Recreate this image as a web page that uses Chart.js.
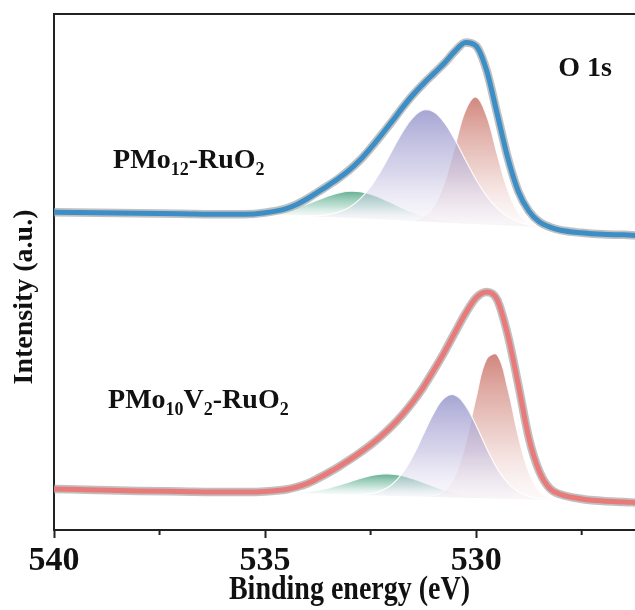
<!DOCTYPE html>
<html>
<head>
<meta charset="utf-8">
<script src="https://cdn.jsdelivr.net/npm/chart.js@4.4.1/dist/chart.umd.min.js"></script>
<style>
html, body { margin: 0; padding: 0; overflow: hidden; background: #fff; }
#wrap { position: relative; width: 650px; height: 610px; }
</style>
</head>
<body>
<div id="wrap"><canvas id="xpsChart"></canvas></div>
<script>
// binding energy grid (eV), shared by every series
const energy = [540, 539, 538, 537, 536, 535.5, 535, 534.5, 534.25, 534,
    533.75, 533.5, 533.25, 533, 532.75, 532.5, 532.25, 532, 531.75, 531.5,
    531.25, 531, 530.75, 530.5, 530.25, 530, 529.75, 529.5, 529.25, 529,
    528.75, 528.5, 528.25, 528, 527.5, 527, 526.5, 526, 525.5, 525];

// PMo12-RuO2 (upper spectrum, offset)
const topEnvelope = [61.6, 61.5, 61.4, 61.3, 61.2, 61.2, 61.5, 62.3, 63.1, 64.2,
    65.5, 66.8, 68.2, 69.8, 71.7, 74.0, 76.5, 79.1, 81.8, 84.3,
    86.5, 88.5, 90.5, 92.8, 94.5, 93.8, 89.0, 80.6, 72.1, 65.6,
    61.8, 59.7, 58.7, 58.1, 57.6, 57.3, 57.2, 57.0, 57.0, 56.8];
const topBackground = [61.43, 61.38, 61.32, 61.24, 61.16, 61.10, 61.05, 60.95, 60.85, 60.79,
    60.72, 60.64, 60.56, 60.47, 60.39, 60.29, 60.19, 60.10, 60.00, 59.90,
    59.81, 59.71, 59.61, 59.52, 59.42, 59.32, 59.22, 59.13, 59.03, 58.91,
    58.80, 58.68, 58.43, 58.0, 57.6, 57.2, 57.0, 56.85, 56.8, 56.6];
const topGreen = [61.43, 61.38, 61.32, 61.24, 61.17, 61.17, 61.37, 61.96, 62.46, 63.17,
    63.96, 64.73, 65.35, 65.65, 65.57, 65.10, 64.32, 63.38, 62.41, 61.54,
    60.85, 60.31, 59.94, 59.68, 59.50, 59.35, 59.23, 59.14, 59.03, 58.91,
    58.80, 58.68, 58.43, 58.0, 57.6, 57.2, 57.0, 56.85, 56.8, 56.6];
const topPurple = [61.43, 61.38, 61.32, 61.24, 61.16, 61.10, 61.05, 60.96, 60.87, 60.87,
    60.93, 61.13, 61.62, 62.55, 64.16, 66.55, 69.73, 73.42, 77.06, 79.93,
    81.39, 81.02, 78.93, 75.58, 71.65, 67.87, 64.70, 62.35, 60.77, 59.77,
    59.19, 58.84, 58.49, 58.02, 57.6, 57.2, 57.0, 56.85, 56.8, 56.6];
const topRed = [61.43, 61.38, 61.32, 61.24, 61.16, 61.10, 61.05, 60.95, 60.85, 60.79,
    60.72, 60.64, 60.56, 60.47, 60.39, 60.29, 60.19, 60.10, 60.04, 60.11,
    60.73, 62.77, 67.35, 74.44, 81.35, 83.90, 80.22, 72.81, 65.82, 61.48,
    59.54, 58.84, 58.46, 58.0, 57.6, 57.2, 57.0, 56.85, 56.8, 56.6];

// PMo10V2-RuO2 (lower spectrum)
const botEnvelope = [7.95, 7.75, 7.56, 7.46, 7.36, 7.36, 7.46, 7.85, 8.33, 9.0,
    10.0, 11.1, 12.3, 13.6, 15.0, 16.5, 18.2, 20.1, 22.3, 24.8,
    27.7, 31.0, 34.5, 38.3, 42.0, 45.0, 46.1, 44.6, 37.79, 28.10,
    17.8, 11.3, 8.0, 6.9, 6.01, 5.62, 5.43, 5.23, 5.14, 5.04];
const botBackground = [7.75, 7.66, 7.56, 7.46, 7.36, 7.27, 7.17, 7.07, 7.03, 6.98,
    6.94, 6.88, 6.84, 6.78, 6.74, 6.69, 6.65, 6.59, 6.55, 6.49,
    6.45, 6.40, 6.36, 6.30, 6.26, 6.20, 6.16, 6.10, 6.07, 6.01,
    5.97, 5.91, 5.81, 5.62, 5.43, 5.33, 5.23, 5.14, 5.04, 4.94];
const botGreen = [7.75, 7.66, 7.56, 7.46, 7.36, 7.27, 7.19, 7.19, 7.27, 7.43,
    7.72, 8.13, 8.70, 9.34, 9.99, 10.53, 10.84, 10.83, 10.52, 9.93,
    9.21, 8.45, 7.77, 7.19, 6.79, 6.49, 6.31, 6.17, 6.10, 6.02,
    5.97, 5.91, 5.81, 5.62, 5.43, 5.33, 5.23, 5.14, 5.04, 4.94];
const botPurple = [7.75, 7.66, 7.56, 7.46, 7.36, 7.27, 7.17, 7.07, 7.03, 6.98,
    6.94, 6.88, 6.84, 6.81, 6.86, 7.05, 7.59, 8.78, 10.98, 14.32,
    18.56, 22.74, 25.63, 26.15, 24.12, 20.25, 15.81, 11.89, 9.10, 7.40,
    6.53, 6.10, 5.87, 5.64, 5.43, 5.33, 5.23, 5.14, 5.04, 4.94];
const botRed = [7.75, 7.66, 7.56, 7.46, 7.36, 7.27, 7.17, 7.07, 7.03, 6.98,
    6.94, 6.88, 6.84, 6.78, 6.74, 6.69, 6.65, 6.59, 6.55, 6.49,
    6.50, 6.68, 7.61, 10.50, 16.77, 25.73, 33.18, 33.93, 27.41, 18.18,
    11.14, 7.54, 6.19, 5.69, 5.43, 5.33, 5.23, 5.14, 5.04, 4.94];

const majorTicks = [530, 535, 540];
const minorTicks = [527.5, 532.5, 537.5];

const serif = '"Liberation Serif", "Times New Roman", serif';

const toPoints = (values) => values.map((v, i) => ({ x: energy[i], y: v }));

// vertical gradient from peak top down to its background
const peakFill = (values, base, colors) => (context) => {
    const chart = context.chart;
    if (!chart.chartArea) return colors[0];
    const peak = Math.max(...values);
    const i = values.indexOf(peak);
    const y0 = chart.scales.y.getPixelForValue(peak);
    const y1 = chart.scales.y.getPixelForValue(base[i]);
    const g = chart.ctx.createLinearGradient(0, y0, 0, y1);
    g.addColorStop(0, colors[0]);
    g.addColorStop(0.55, colors[1]);
    g.addColorStop(1, colors[2]);
    return g;
};

const greenShade = ['rgba(92,170,140,0.95)', 'rgba(150,205,185,0.6)', 'rgba(232,245,240,0.25)'];
const redShade = ['rgba(205,122,112,0.9)', 'rgba(225,175,168,0.6)', 'rgba(246,232,232,0.25)'];
const purpleShade = ['rgba(150,150,204,0.85)', 'rgba(190,186,222,0.6)', 'rgba(238,234,246,0.3)'];

const datasets = [];
const addSpectrum = (env, bg, comps, lineColor) => {
    datasets.push({ data: toPoints(env), borderColor: lineColor, borderWidth: 5, order: 1 });
    datasets.push({ data: toPoints(env), borderColor: 'rgba(165,165,165,0.7)', borderWidth: 8.5, order: 2 });
    const bgIndex = datasets.length;
    datasets.push({ data: toPoints(bg), borderColor: 'rgba(0,0,0,0)', borderWidth: 0, order: 20 });
    comps.forEach(c => {
        datasets.push({
            data: toPoints(c.values),
            borderColor: 'rgba(255,255,255,0.9)',
            borderWidth: 1.2,
            cubicInterpolationMode: 'default',
            tension: 0.4,
            fill: bgIndex,
            backgroundColor: peakFill(c.values, bg, c.shade),
            order: c.order
        });
    });
};

addSpectrum(topEnvelope, topBackground, [
    { values: topGreen, shade: greenShade, order: 7 },
    { values: topRed, shade: redShade, order: 6 },
    { values: topPurple, shade: purpleShade, order: 5 }
], '#3b8ec6');
addSpectrum(botEnvelope, botBackground, [
    { values: botGreen, shade: greenShade, order: 7 },
    { values: botRed, shade: redShade, order: 6 },
    { values: botPurple, shade: purpleShade, order: 5 }
], '#e97a7a');

const sampleLabels = [
    { parts: [['PMo', 0], ['12', 1], ['-RuO', 0], ['2', 1]], e: 538.6, v: 70.2 },
    { parts: [['PMo', 0], ['10', 1], ['V', 0], ['2', 1], ['-RuO', 0], ['2', 1]], e: 538.72, v: 23.6 }
];

const drawRich = (ctx, parts, x, y) => {
    parts.forEach(([txt, sub]) => {
        ctx.font = sub ? `bold 18px ${serif}` : `bold 28px ${serif}`;
        ctx.fillText(txt, x, sub ? y + 7 : y);
        x += ctx.measureText(txt).width;
    });
};

const decorPlugin = {
    id: 'decor',
    afterDraw(chart) {
        const { ctx, chartArea: a, scales: { x, y } } = chart;
        ctx.save();
        // frame top / right and minor ticks
        ctx.strokeStyle = '#222';
        ctx.lineWidth = 2;
        ctx.beginPath();
        ctx.moveTo(a.left, a.top);
        ctx.lineTo(a.right, a.top);
        ctx.lineTo(a.right, a.bottom);
        minorTicks.forEach(v => {
            const px = x.getPixelForValue(v);
            ctx.moveTo(px, a.bottom);
            ctx.lineTo(px, a.bottom + 5);
        });
        ctx.stroke();

        ctx.fillStyle = '#111';
        ctx.textBaseline = 'alphabetic';
        ctx.textAlign = 'left';
        sampleLabels.forEach(l => drawRich(ctx, l.parts, x.getPixelForValue(l.e), y.getPixelForValue(l.v)));

        ctx.textAlign = 'center';
        ctx.font = `bold 28px ${serif}`;
        ctx.fillText('O 1s', x.getPixelForValue(527.42), y.getPixelForValue(88));

        // axis titles (x title slightly stretched vertically like the original)
        ctx.textBaseline = 'middle';
        ctx.save();
        ctx.translate((a.left + a.right) / 2, 590);
        ctx.scale(1, 1.22);
        ctx.fillText('Binding energy (eV)', 0, 0);
        ctx.restore();
        ctx.translate(25, 297);
        ctx.rotate(-Math.PI / 2);
        ctx.fillText('Intensity (a.u.)', 0, 0);
        ctx.restore();
    }
};

const ctx = document.getElementById('xpsChart').getContext('2d');
new Chart(ctx, {
    type: 'line',
    data: { datasets },
    plugins: [decorPlugin],
    options: {
        responsive: true,
        maintainAspectRatio: false,
        animation: false,
        layout: { padding: { top: 14, right: 5, left: 0, bottom: 0 } },
        elements: {
            point: { radius: 0 },
            line: { cubicInterpolationMode: 'monotone', fill: false }
        },
        plugins: {
            legend: { display: false },
            tooltip: { enabled: false }
        },
        scales: {
            x: {
                type: 'linear',
                reverse: true,
                min: 526,
                max: 540,
                afterBuildTicks: (scale) => { scale.ticks = majorTicks.map(v => ({ value: v })); },
                afterFit: (scale) => { scale.height = 80; },
                ticks: {
                    autoSkip: false,
                    maxRotation: 0,
                    padding: 3,
                    color: '#111',
                    font: { family: serif, size: 34, weight: 'bold' },
                    callback: (v) => String(v)
                },
                grid: { drawOnChartArea: false, tickLength: 8, tickWidth: 2, tickColor: '#222' },
                border: { display: true, width: 2, color: '#222' }
            },
            y: {
                min: 0,
                max: 100,
                afterFit: (scale) => { scale.width = 54; },
                ticks: { display: false },
                grid: { display: false },
                border: { display: true, width: 2, color: '#222' }
            }
        }
    }
});
</script>
</body>
</html>
